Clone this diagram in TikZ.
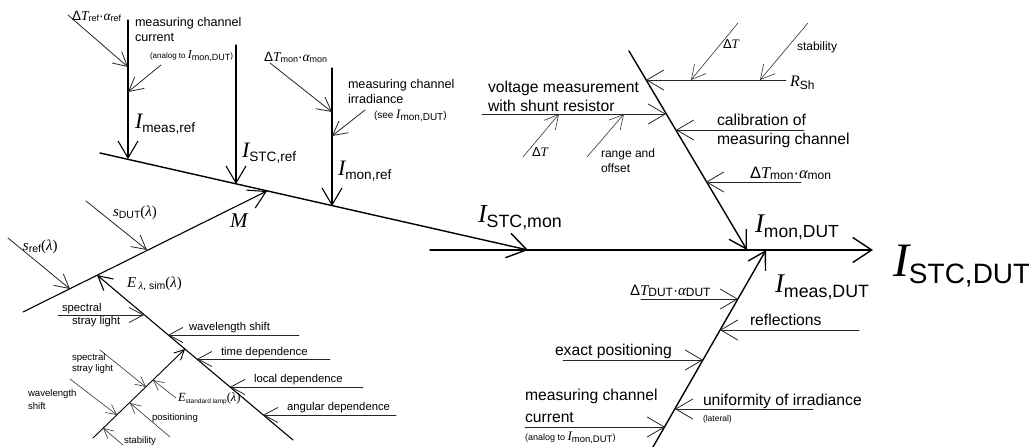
\documentclass[tikz,border=0pt]{standalone}
\usepackage{fontspec}
\setmainfont{Liberation Sans}
\newfontfamily\serif{Liberation Serif}
\usetikzlibrary{arrows.meta}
\newcommand{\fs}[1]{\fontsize{#1}{#1}\selectfont}
\newcommand{\mi}[1]{{\serif\itshape #1}}
% I with subscript: {Isize}{subsize}{drop}{text}
\newcommand{\Ilab}[4]{{\fs{#1}\mi{I}}\raisebox{-#3pt}{\fs{#2}#4}}
% Delta T alpha: {size}{subsize}{sub}
\newcommand{\dTa}[3]{{\fs{#1}Δ\mi{T}\raisebox{-0.12em}{\fs{#2}#3}·\mi{α}\raisebox{-0.12em}{\fs{#2}#3}}}
\newcommand{\lam}{{\serif(}\mi{λ}{\serif)}}
\tikzset{
  spine/.style={line width=1.4pt},
  branch/.style={line width=1.1pt},
  cause/.style={line width=0.8pt, draw=black!85},
  small/.style={line width=0.6pt, draw=black!80},
  aL/.style={-{Straight Barb[length=19pt,width=25pt]}},
  aM/.style={-{Straight Barb[length=17pt,width=20pt]}},
  aS/.style={-{Straight Barb[length=14pt,width=15pt]}},
  aT/.style={-{Straight Barb[length=10pt,width=10pt]}},
  lbl/.style={inner sep=0pt, outer sep=0pt, anchor=base west},
  big/.style={lbl, font=\fs{15.7}},
  mid/.style={lbl, font=\fs{12.6}},
  sml/.style={lbl, font=\fs{11.3}},
  tny/.style={lbl, font=\fs{9.6}},
}
\begin{document}
\begin{tikzpicture}[x=1pt,y=-1pt,line cap=round,line join=round]
\useasboundingbox (0,0) rectangle (1029,447);
\fill[white] (0,0) rectangle (1029,447);

% ---------- coordinates ----------
\coordinate (h0) at (430,250);   \coordinate (h1) at (873,250);
\coordinate (ul0) at (100,153);  \coordinate (ul1) at (528,250);
\coordinate (imr0) at (128,20);  \coordinate (imr1) at (128,159);
\coordinate (isr0) at (236,45);  \coordinate (isr1) at (236,184);
\coordinate (imo0) at (332,68);  \coordinate (imo1) at (332,206);
\coordinate (dtr0) at (68,15);   \coordinate (dtr1) at (128,67);
\coordinate (mcc0) at (161,65);  \coordinate (mcc1) at (128,92);
\coordinate (dtm0) at (270,63);  \coordinate (dtm1) at (332,112);
\coordinate (mci0) at (365,110); \coordinate (mci1) at (332,136);
\coordinate (m0) at (23,312);    \coordinate (m1) at (267,191);
\coordinate (sr0) at (8,238);    \coordinate (sr1) at (70,289);
\coordinate (sd0) at (86,201);   \coordinate (sd1) at (147,250);
\coordinate (e0) at (293,440);   \coordinate (e1) at (97,275);
\coordinate (ssl0) at (58,315);  \coordinate (ssl1) at (144,315);
\coordinate (ws0) at (299,335);  \coordinate (ws1) at (168,335);
\coordinate (td0) at (330,359);  \coordinate (td1) at (197,359);
\coordinate (ld0) at (363,387);  \coordinate (ld1) at (230,387);
\coordinate (ad0) at (396,415);  \coordinate (ad1) at (263,415);
\coordinate (st0) at (93,438);   \coordinate (st1) at (185,349);
\coordinate (ss20) at (100,350); \coordinate (ss21) at (146,387);
\coordinate (wl20) at (70,379);  \coordinate (wl21) at (117,415);
\coordinate (esl0) at (176,398); \coordinate (esl1) at (153,380);
\coordinate (pos0) at (170,437); \coordinate (pos1) at (130,403);
\coordinate (stb0) at (123,445); \coordinate (stb1) at (103,428);
\coordinate (ur0) at (629,51);   \coordinate (ur1) at (747,250);
\coordinate (rsh0) at (786,80);  \coordinate (rsh1) at (646,80);
\coordinate (dt10) at (738,23);  \coordinate (dt11) at (691,80);
\coordinate (stab0) at (808,23); \coordinate (stab1) at (760,80);
\coordinate (vm0) at (482,114);  \coordinate (vm1) at (666,114);
\coordinate (dt20) at (523,157); \coordinate (dt21) at (559,114);
\coordinate (ro0) at (587,157);  \coordinate (ro1) at (624,114);
\coordinate (cal0) at (804,130); \coordinate (cal1) at (676,130);
\coordinate (dtm20) at (801,182);\coordinate (dtm21) at (706,182);
\coordinate (lr0) at (653,447);  \coordinate (lr1) at (766,250);
\coordinate (dtd0) at (641,299); \coordinate (dtd1) at (738,299);
\coordinate (ref0) at (859,330); \coordinate (ref1) at (720,330);
\coordinate (ex0) at (563,360);  \coordinate (ex1) at (703,360);
\coordinate (uni0) at (813,409); \coordinate (uni1) at (675,409);
\coordinate (mcd0) at (525,427); \coordinate (mcd1) at (665,427);

% ---------- lines ----------
\draw[spine,aL] (h0) -- (h1);
\draw[spine,aL] (ul0) -- (ul1);
\draw[branch,aM] (imr0) -- (imr1);
\draw[branch,aM] (isr0) -- (isr1);
\draw[branch,aM] (imo0) -- (imo1);
\draw[cause,aS] (dtr0) -- (dtr1);
\draw[cause,aS] (mcc0) -- (mcc1);
\draw[cause,aS] (dtm0) -- (dtm1);
\draw[cause,aS] (mci0) -- (mci1);
\draw[branch,aM] (m0) -- (m1);
\draw[cause,aS] (sr0) -- (sr1);
\draw[cause,aS] (sd0) -- (sd1);
\draw[branch,aS] (e0) -- (e1);
\draw[cause,aS] (ssl0) -- (ssl1);
\draw[cause,aS] (ws0) -- (ws1);
\draw[cause,aS] (td0) -- (td1);
\draw[cause,aS] (ld0) -- (ld1);
\draw[cause,aS] (ad0) -- (ad1);
\draw[line width=0.9pt,aT] (st0) -- (st1);
\draw[small,aT] (ss20) -- (ss21);
\draw[small,aT] (wl20) -- (wl21);
\draw[small,aT] (esl0) -- (esl1);
\draw[small,aT] (pos0) -- (pos1);
\draw[small,aT] (stb0) -- (stb1);
\draw[spine,aM] (ur0) -- (ur1);
\draw[cause,aM] (rsh0) -- (rsh1);
\draw[small,aS] (dt10) -- (dt11);
\draw[small,aS] (stab0) -- (stab1);
\draw[cause,aM] (vm0) -- (vm1);
\draw[small,aS] (dt20) -- (dt21);
\draw[small,aS] (ro0) -- (ro1);
\draw[cause,aM] (cal0) -- (cal1);
\draw[cause,aM] (dtm20) -- (dtm21);
\draw[spine,aM] (lr0) -- (lr1);
\draw[cause,aM] (dtd0) -- (dtd1);
\draw[cause,aM] (ref0) -- (ref1);
\draw[cause,aM] (ex0) -- (ex1);
\draw[cause,aM] (uni0) -- (uni1);
\draw[cause,aM] (mcd0) -- (mcd1);

% ---------- labels ----------
% upper left
\node[lbl] (Ldtr) at (72,20) {\dTa{13.5}{9}{ref}};
\node[mid] (Lmcc1) at (135,26) {measuring channel};
\node[mid] (Lmcc2) at (135,41) {current};
\node[lbl,anchor=base east] (Lmcc3) at (233,58) {\fs{8}(analog to \raisebox{0pt}{\fs{12}\mi{I}}\raisebox{-2pt}{\fs{9}mon,DUT})};
\node[lbl] (Limr) at (135,128) {\Ilab{22}{13.6}{4}{meas,ref}};
\node[lbl] (Lisr) at (242,157) {\Ilab{22}{13.6}{4}{STC,ref}};
\node[lbl] (Ldtm) at (264,61) {\dTa{13.5}{9}{mon}};
\node[mid] (Lmci1) at (348,88) {measuring channel};
\node[mid] (Lmci2) at (348,103) {irradiance};
\node[lbl] (Lmci3) at (374,118) {\fs{10}(see \raisebox{0pt}{\fs{13}\mi{I}}\raisebox{-2pt}{\fs{10}mon,DUT})};
\node[lbl] (Limo) at (338,175) {\Ilab{22}{13.6}{4}{mon,ref}};
% M branch
\node[lbl] (LM) at (230,227) {\fs{21}\mi{M}};
\node[lbl] (Lsd) at (113,216) {\fs{15}\mi{s}\raisebox{-2pt}{\fs{10.5}DUT}\lam};
\node[lbl] (Lsr) at (23,250) {\fs{15}\mi{s}\raisebox{-2pt}{\fs{10.5}ref}\lam};
\node[lbl] (Les) at (127,287) {\fs{15}\mi{E}\,\raisebox{-2pt}{\fs{10.5}\mi{λ}, sim}\lam};
% E branch
\node[sml] (Lssl1) at (62,311) {spectral};
\node[sml] (Lssl2) at (72,324) {stray light};
\node[sml] (Lws) at (189,330) {wavelength shift};
\node[sml] (Ltd) at (221,355) {time dependence};
\node[sml] (Lld) at (254,382) {local dependence};
\node[sml] (Lad) at (287,410) {angular dependence};
% E standard lamp branch
\node[tny] (Lss21) at (72,360) {spectral};
\node[tny] (Lss22) at (72,371) {stray light};
\node[tny] (Lwl21) at (28,396) {wavelength};
\node[tny] (Lwl22) at (28,409) {shift};
\node[lbl] (Lesl) at (178,401) {\fs{12.5}\mi{E}\raisebox{-2pt}{\fs{6.5}standard lamp}\lam};
\node[tny] (Lpos) at (152,420) {positioning};
\node[tny] (Lstb) at (124,443) {stability};
% upper right
\node[lbl] (Ldt1) at (723,48) {\fs{13}Δ\mi{T}};
\node[tny,font=\fs{12}] (Lstab) at (797,50) {stability};
\node[lbl] (Lrsh) at (790,86) {\fs{16}\mi{R}\raisebox{-3pt}{\fs{12}Sh}};
\node[big] (Lvm1) at (488,92) {voltage measurement};
\node[big] (Lvm2) at (488,111) {with shunt resistor};
\node[lbl] (Ldt2) at (532,156) {\fs{13}Δ\mi{T}};
\node[tny,font=\fs{12}] (Lro1) at (601,157) {range and};
\node[tny,font=\fs{12}] (Lro2) at (601,172) {offset};
\node[big] (Lcal1) at (717,125) {calibration of};
\node[big] (Lcal2) at (717,144) {measuring channel};
\node[lbl] (Ldtm2) at (750,178) {\dTa{16.5}{12}{mon}};
% main labels
\node[lbl] (Lism) at (478,222) {\Ilab{26}{17.8}{5}{STC,mon}};
\node[lbl] (Limd) at (755,232) {\Ilab{27}{17.5}{5}{mon,DUT}};
\node[lbl] (Lmed) at (775,292) {\Ilab{27}{17.8}{5}{meas,DUT}};
\node[lbl] (Lisd) at (893,276) {\Ilab{48}{28}{7}{STC,DUT}};
% lower right
\node[lbl] (Ldtd) at (630,295) {\dTa{15}{12}{DUT}};
\node[big] (Lref) at (750,325) {reflections};
\node[big] (Lex) at (555,355) {exact positioning};
\node[big] (Luni) at (703,405) {uniformity of irradiance};
\node[lbl] (Luni2) at (703,421) {\fs{8.5}(lateral)};
\node[big] (Lmcd1) at (525,400) {measuring channel};
\node[big] (Lmcd2) at (525,422) {current};
\node[lbl] (Lmcd3) at (525,440) {\fs{9}(analog to \raisebox{0pt}{\fs{13}\mi{I}}\raisebox{-2pt}{\fs{9.5}mon,DUT})};
\end{tikzpicture}
\end{document}
